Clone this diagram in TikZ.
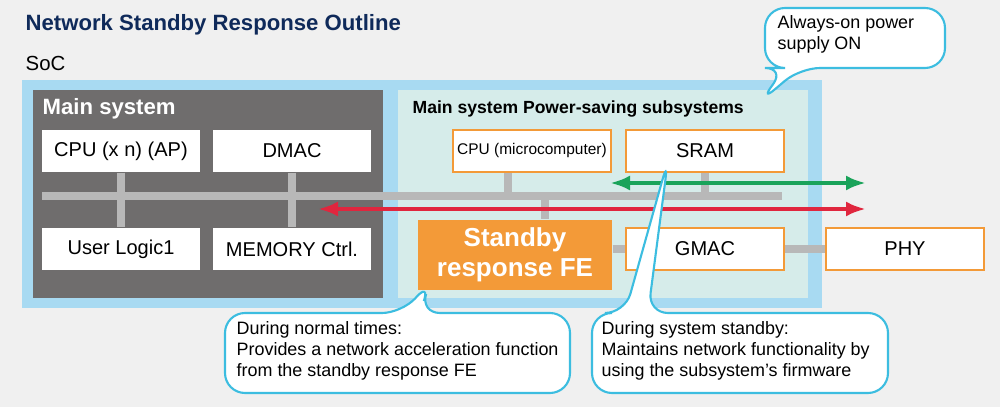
\documentclass[tikz,border=0pt]{standalone}
\usepackage{fontspec}
\setmainfont{Liberation Sans}
\usetikzlibrary{arrows.meta,positioning}
\definecolor{bgray}{HTML}{F0F0F0}
\definecolor{socblue}{HTML}{A8DAF2}
\definecolor{mgray}{HTML}{6F6D6D}
\definecolor{pslight}{HTML}{D6ECEA}
\definecolor{busgray}{HTML}{B8B8B8}
\definecolor{morange}{HTML}{F39A38}
\definecolor{mnavy}{HTML}{0F2A5A}
\definecolor{mgreen}{HTML}{1AA35A}
\definecolor{mred}{HTML}{E0263E}
\definecolor{callb}{HTML}{3CBDE0}
\tikzstyle{wbox}=[draw=none, fill=white, minimum width=15.8mm, minimum height=4.2mm, inner sep=0pt, font=\fontsize{5.7}{7}\selectfont]
\tikzstyle{obox}=[wbox, draw=morange, line width=0.7pt]
\tikzstyle{bus}=[busgray, line width=2pt]
\tikzstyle{call}=[draw=callb, fill=white, line width=0.6pt, rounded corners=2mm]
\tikzstyle{ctext}=[align=left, anchor=north west, inner sep=0pt, font=\fontsize{5.1}{5.9}\selectfont]
\begin{document}
\begin{tikzpicture}[x=0.1mm, y=-0.1mm]
    \fill[bgray] (0,0) rectangle (1000,407);
    \useasboundingbox (0,0) rectangle (1000,407);
    \node[anchor=west, inner sep=0pt, text=mnavy, font=\bfseries\fontsize{6.3}{8}\selectfont] (title) at (25,25) {Network Standby Response Outline};
    \node[anchor=west, inner sep=0pt, font=\fontsize{5.8}{7}\selectfont] (soc) at (25,63) {SoC};
    % frames
    \fill[socblue] (22,80) rectangle (822,308);
    \fill[mgray] (33,90) rectangle (383,298);
    \fill[pslight] (398,90) rectangle (808,298);
    \node[anchor=west, inner sep=0pt, text=white, font=\bfseries\fontsize{6.3}{8}\selectfont] (mains) at (42,109) {Main system};
    \node[anchor=west, inner sep=0pt, font=\bfseries\fontsize{5}{7}\selectfont] (pss) at (412,109) {Main system Power-saving subsystems};
    % bus
    \coordinate (bl) at (42,196); \coordinate (br) at (782,196);
    \draw[bus] (bl) -- (br);
    \node[wbox] (cpu) at (121,151) {CPU (x n) (AP)};
    \node[wbox] (dmac) at (292,151) {DMAC};
    \node[wbox] (ul) at (121,249) {User Logic1};
    \node[wbox] (mem) at (292,249) {MEMORY Ctrl.};
    \node[obox] (mcu) at (532,151) {\fontsize{4.4}{6}\selectfont CPU (microcomputer)};
    \node[obox] (sram) at (705,151) {SRAM};
    \node[obox] (gmac) at (705,249) {GMAC};
    \node[obox] (phy) at (905,249) {PHY};
    \node[fill=morange, text=white, minimum width=19.4mm, minimum height=7mm, inner sep=0pt, align=center, font=\bfseries\fontsize{7.4}{8.6}\selectfont] (fe) at (515,255) {Standby\\response FE};
    \draw[bus] (cpu) -- (ul);
    \draw[bus] (dmac) -- (mem);
    \draw[bus] (mcu.south -| 508,0) -- (508,196);
    \draw[bus] (sram) -- (sram |- br);
    \draw[bus] (545,196) -- (fe.north -| 545,0);
    \draw[bus] (fe.east |- gmac) -- (gmac.west);
    \draw[bus] (gmac) -- (phy);
    % arrows
    \coordinate (ga) at (610,183); \coordinate (gb) at (866,183);
    \coordinate (ra) at (318,209); \coordinate (rb) at (866,209);
    \draw[mgreen, line width=1.2pt, {Latex[length=2mm]}-{Latex[length=2mm]}] (ga) -- (gb);
    \draw[mred, line width=1.2pt, {Latex[length=2mm]}-{Latex[length=2mm]}] (ra) -- (rb);
    % callouts
    \draw[call] (765,8) -- (945,8) -- (945,68) -- (800,68) -- (760,102) -- (785,68) -- (765,68) -- cycle;
    \node[ctext] (c1) at (777,15) {Always-on power\\supply ON};
    \draw[call] (225,313) -- (402,313) -- (430,282) -- (420,313) -- (570,313) -- (570,393) -- (225,393) -- cycle;
    \node[ctext] (c2) at (236,321) {During normal times:\\Provides a network acceleration function\\from the standby response FE};
    \draw[call] (592,313) -- (625,313) -- (668,160) -- (648,313) -- (888,313) -- (888,393) -- (592,393) -- cycle;
    \node[ctext] (c3) at (601,321) {During system standby:\\Maintains network functionality by\\using the subsystem's firmware};
\end{tikzpicture}
\end{document}
